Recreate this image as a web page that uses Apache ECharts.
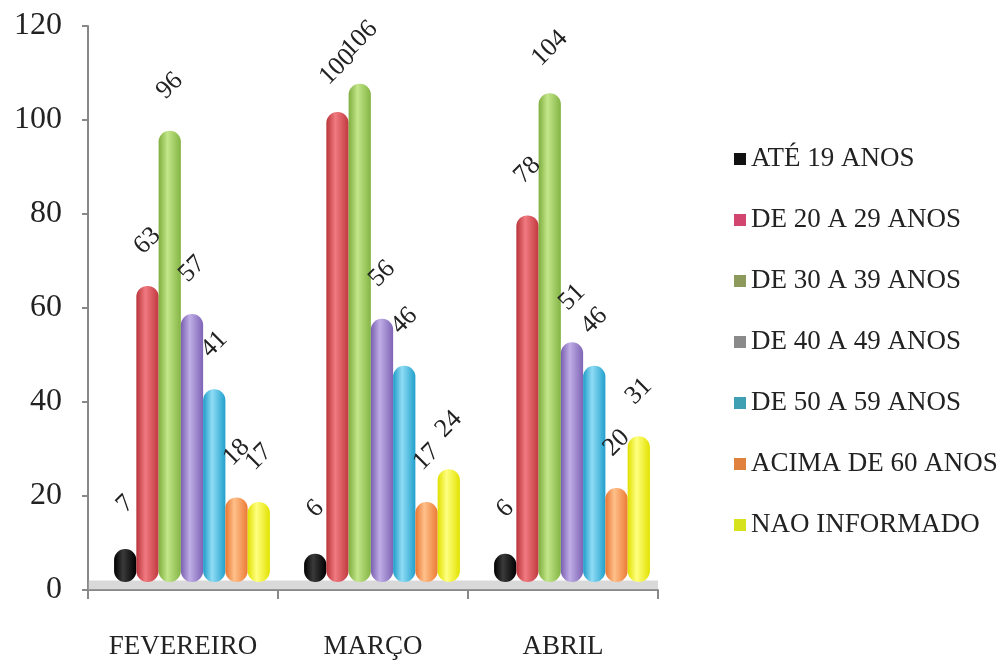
<!DOCTYPE html>
<html><head><meta charset="utf-8">
<script src="https://cdn.jsdelivr.net/npm/echarts@6/dist/echarts.min.js"></script>
<style>html,body{margin:0;padding:0;background:#fff}#c{width:1006px;height:662px}</style>
</head><body><div id="c"></div>
<script>
const categories = ['FEVEREIRO', 'MARÇO', 'ABRIL'];
const seriesNames = ['ATÉ 19 ANOS', 'DE 20 A 29 ANOS', 'DE 30 A 39 ANOS', 'DE 40 A 49 ANOS', 'DE 50 A 59 ANOS', 'ACIMA DE 60 ANOS', 'NAO INFORMADO'];
const ate19 = [7, 6, 6];
const de20a29 = [63, 100, 78];
const de30a39 = [96, 106, 104];
const de40a49 = [57, 56, 51];
const de50a59 = [41, 46, 46];
const acima60 = [18, 17, 20];
const naoInformado = [17, 24, 31];
const yTicks = [0, 20, 40, 60, 80, 100, 120];

const values = [ate19, de20a29, de30a39, de40a49, de50a59, acima60, naoInformado];
const barColors = [
  ['#000000', '#3a3a3a', '#000000'],
  ['#b8343a', '#f07a80', '#c0393f'],
  ['#7fae3e', '#c2e68a', '#84b444'],
  ['#7a5fb0', '#bfaee6', '#7f64b5'],
  ['#1f9cc8', '#8fdcf5', '#22a0cc'],
  ['#e87530', '#ffc08a', '#eb7a35'],
  ['#e0e000', '#ffff80', '#e2e200']
];
const legendColors = ['#111111', '#d2456e', '#8c9a5c', '#8a8a8a', '#3fa0b4', '#e0823e', '#d6e21c'];
const font = 'Liberation Serif';

const chart = echarts.init(document.getElementById('c'));
const series = values.map((v, i) => ({
  name: seriesNames[i],
  type: 'bar',
  xAxisIndex: 1,
  yAxisIndex: 1,
  data: v,
  barGap: '0%',
  barCategoryGap: '18%',
  itemStyle: {
    borderRadius: 11,
    color: new echarts.graphic.LinearGradient(0, 0, 1, 0, [
      {offset: 0, color: barColors[i][0]},
      {offset: 0.4, color: barColors[i][1]},
      {offset: 1, color: barColors[i][2]}
    ])
  },
  label: {
    show: true,
    position: 'top',
    distance: 45,
    rotate: 45,
    align: 'center',
    verticalAlign: 'middle',
    fontFamily: font,
    fontSize: 26,
    color: '#222'
  }
}));
series.push({
  type: 'bar',
  xAxisIndex: 0,
  yAxisIndex: 0,
  data: [],
  silent: true,
  markArea: {
    silent: true,
    itemStyle: {color: 'rgba(170,170,170,0.45)'},
    data: [[{yAxis: 0}, {yAxis: 2}]]
  }
});

chart.setOption({
  backgroundColor: '#ffffff',
  animation: false,
  legend: {
    orient: 'vertical',
    left: 729,
    top: 139,
    itemWidth: 12,
    itemHeight: 12,
    itemGap: 31,
    icon: 'rect',
    textStyle: {fontFamily: font, fontSize: 27, color: '#222', lineHeight: 30},
    data: seriesNames.map((n, i) => ({name: n, itemStyle: {color: legendColors[i]}}))
  },
  grid: [
    {left: 88, right: 348, top: 26, bottom: 72},
    {left: 97, right: 339, top: 18, bottom: 80}
  ],
  xAxis: [
    {
      type: 'category', gridIndex: 0, data: categories,
      axisLine: {lineStyle: {color: '#888', width: 2}},
      axisTick: {show: true, length: 9, lineStyle: {color: '#888', width: 2}},
      axisLabel: {interval: 0, fontFamily: font, fontSize: 27, color: '#222', margin: 43}
    },
    {
      type: 'category', gridIndex: 1, data: categories, show: false
    }
  ],
  yAxis: [
    {
      type: 'value', gridIndex: 0, min: 0, max: 120, interval: 20,
      axisLine: {show: true, lineStyle: {color: '#888', width: 2}},
      axisTick: {show: true, length: 6, lineStyle: {color: '#888', width: 2}},
      splitLine: {show: false},
      axisLabel: {fontFamily: font, fontSize: 32, color: '#222', margin: 26,
        formatter: v => yTicks.includes(v) ? String(v) : ''}
    },
    {
      type: 'value', gridIndex: 1, min: 0, max: 120, interval: 20, show: false,
      splitLine: {show: false}
    }
  ],
  series: series
});
</script></body></html>
